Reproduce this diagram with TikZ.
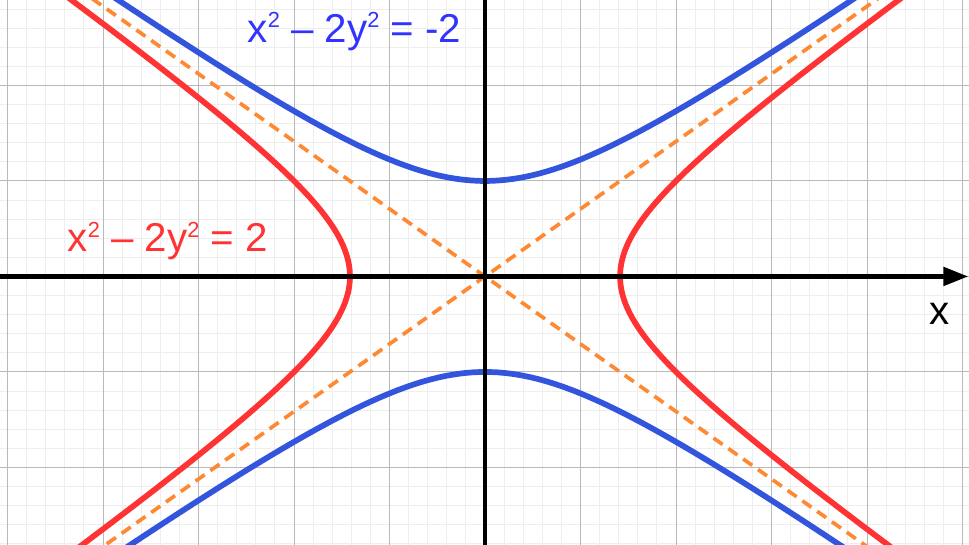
\documentclass[tikz,border=0pt]{standalone}
\usepackage{fontspec}
\setmainfont{Liberation Sans}
\usetikzlibrary{arrows.meta}
\definecolor{curvered}{RGB}{255,51,51}
\definecolor{curveblue}{RGB}{51,85,221}
\definecolor{textblue}{RGB}{51,51,255}
\definecolor{asymorange}{RGB}{255,136,51}
\definecolor{minorgrid}{RGB}{238,238,238}
\definecolor{majorgrid}{RGB}{185,185,185}
\newcommand{\squared}{\raisebox{4.3pt}{\fontsize{6.5}{7}\selectfont 2}}

\begin{document}
\begin{tikzpicture}[font=\fontsize{12}{14}\selectfont,
  curve/.style={line width=1.7pt, line cap=round},
  asym/.style={asymorange, line width=1.1pt, dash pattern=on 3.3pt off 2.1pt},
  axis/.style={black, line width=1.35pt}]
  \useasboundingbox (-5.079,-2.812) rectangle (5.068,2.895);
  \clip (-5.079,-2.812) rectangle (5.068,2.895);
  \fill[white] (-5.079,-2.812) rectangle (5.068,2.895);
  % grid
  \draw[minorgrid, line width=0.3pt, step=0.2] (-5.2,-3) grid (5.2,3);
  \draw[majorgrid, line width=0.3pt, step=1] (-5.2,-3) grid (5.2,3);
  % asymptotes y = +-x/sqrt(2)
  \draw[asym] (-5.2,-3.677) -- (5.2,3.677);
  \draw[asym] (-5.2,3.677) -- (5.2,-3.677);
  % x^2 - 2y^2 = 2
  \draw[curve, curvered, domain=-3:3, samples=120] plot ({sqrt(2+2*\x*\x)}, \x);
  \draw[curve, curvered, domain=-3:3, samples=120] plot ({-sqrt(2+2*\x*\x)}, \x);
  % x^2 - 2y^2 = -2
  \draw[curve, curveblue, domain=-5.2:5.2, samples=120] plot (\x, {sqrt((\x*\x+2)/2)});
  \draw[curve, curveblue, domain=-5.2:5.2, samples=120] plot (\x, {-sqrt((\x*\x+2)/2)});
  % axes
  \coordinate (west) at (-5.1,0);
  \coordinate (east) at (5.06,0);
  \coordinate (south) at (0,-2.9);
  \coordinate (north) at (0,2.95);
  \draw[axis, -{Triangle[length=7.4pt, width=5.4pt]}] (west) -- (east);
  \draw[axis] (south) -- (north);
  % labels
  \node[anchor=base west, inner sep=0, text=curvered] (redlabel) at (-4.377,0.2565) {x\squared{} – 2y\squared{} = 2};
  \node[anchor=base west, inner sep=0, text=textblue] (bluelabel) at (-2.492,2.455) {x\squared{} – 2y\squared{} = -2};
  \node[inner sep=0] (xlabel) at (4.759,-0.387) {x};
\end{tikzpicture}
\end{document}
